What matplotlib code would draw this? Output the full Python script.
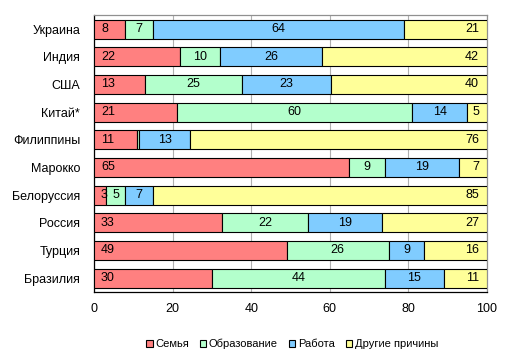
import matplotlib
matplotlib.use("Agg")
import matplotlib.pyplot as plt
from matplotlib.patches import Patch
from matplotlib.transforms import offset_copy
import numpy as np

plt.rcParams['font.family'] = ['Liberation Sans', 'DejaVu Sans']

countries = ["Украина", "Индия", "США", "Китай*", "Филиппины", "Марокко",
             "Белоруссия", "Россия", "Турция", "Бразилия"]
series_names = ["Семья", "Образование", "Работа", "Другие причины"]
family = [8, 22, 13, 21, 11, 65, 3, 33, 49, 30]
education = [7, 10, 25, 60, 0.6, 9, 5, 22, 26, 44]
work = [64, 26, 23, 14, 13, 19, 7, 19, 9, 15]
other = [21, 42, 40, 5, 76, 7, 85, 27, 16, 11]
# labels shown (None = no label)
education_labels = ["7", "10", "25", "60", None, "9", "5", "22", "26", "44"]
xticks = [0, 20, 40, 60, 80, 100]

colors = ["#FF8080", "#B3FFCC", "#80CCFF", "#FFFF99"]

data = np.array([family, education, work, other], dtype=float)
totals = data.sum(axis=0)
pct = data / totals * 100

fig = plt.figure(figsize=(5.13, 3.60), dpi=100)
ax = fig.add_axes([94/513, 1-292/360, (487-94)/513, (292-15.3)/360])

n = len(countries)
ypos = np.arange(n)[::-1]
left = np.zeros(n)
label_sets = [
    [str(v) for v in family],
    education_labels,
    [str(v) for v in work],
    [str(v) for v in other],
]
for i in range(4):
    ax.barh(ypos, pct[i], left=left, height=0.69, color=colors[i],
            edgecolor="black", linewidth=0.8, zorder=3)
    for j in range(n):
        lab = label_sets[i][j]
        if lab is None:
            continue
        if i == 0:
            tr = offset_copy(ax.transData, fig=fig, x=7, y=0, units='dots')
            ax.text(left[j], ypos[j], lab, transform=tr, ha='left', va='center',
                    fontsize=9, zorder=4)
        elif i == 3:
            tr = offset_copy(ax.transData, fig=fig, x=-8, y=0, units='dots')
            ax.text(left[j] + pct[i][j], ypos[j], lab, transform=tr, ha='right',
                    va='center', fontsize=9, zorder=4)
        else:
            ax.text(left[j] + pct[i][j] / 2, ypos[j], lab, ha='center',
                    va='center', fontsize=9, zorder=4)
    left = left + pct[i]

ax.set_xlim(0, 100)
ax.set_ylim(-0.5, n - 0.5)
ax.set_yticks(ypos)
ax.set_yticklabels(countries, fontsize=9)
ax.set_xticks(xticks)
ax.set_xticklabels([str(t) for t in xticks], fontsize=9)
ax.tick_params(axis='both', length=0)
ax.tick_params(axis='y', pad=10)
ax.tick_params(axis='x', pad=8)
ax.grid(axis='x', color='#B0B0B0', linewidth=0.8, zorder=0)
ax.spines['left'].set_color('black')
ax.spines['bottom'].set_color('black')
ax.spines['top'].set_color('#909090')
ax.spines['right'].set_color('#909090')
for s in ax.spines.values():
    s.set_linewidth(0.9)

handles = [Patch(facecolor=c, edgecolor='black', linewidth=0.8) for c in colors]
fig.legend(handles, series_names, loc='center', bbox_to_anchor=(292/513, 1-344/360),
           ncol=4, frameon=False, fontsize=8, handlelength=0.6, handleheight=0.6,
           handletextpad=0.2, columnspacing=1.0)

fig.savefig("out.png", dpi=100)
